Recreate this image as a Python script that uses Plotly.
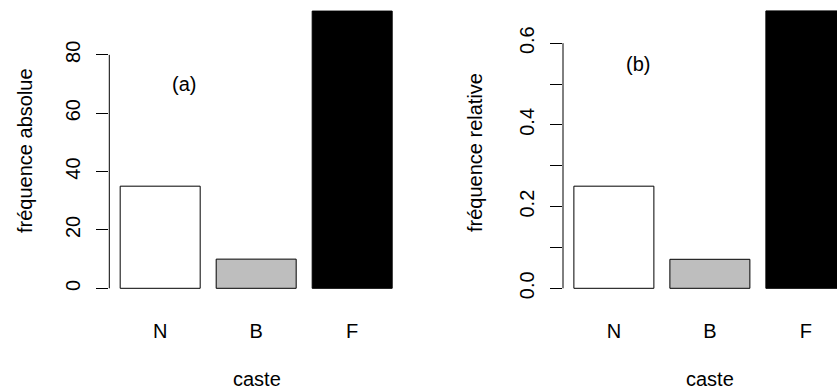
import plotly.graph_objects as go

# ---- data ----
castes = ["N", "B", "F"]
freq_abs = [35, 10, 95]
freq_rel = [0.25, 0.071, 0.679]
bar_colors = ["white", "#BEBEBE", "black"]
abs_ticks = [0, 20, 40, 60, 80]
abs_ticklabels = ["0", "20", "40", "60", "80"]
rel_ticks = [0.0, 0.1, 0.2, 0.3, 0.4, 0.5, 0.6]
rel_ticklabels = ["0.0", "", "0.2", "", "0.4", "", "0.6"]

W, H = 837, 391
FONT = "Liberation Sans, Arial, Helvetica, sans-serif"
FS = 20

fig = go.Figure()
fig.add_trace(go.Bar(x=castes, y=freq_abs, marker=dict(color=bar_colors, line=dict(color="black", width=1)),
                     xaxis="x", yaxis="y", showlegend=False))
fig.add_trace(go.Bar(x=castes, y=freq_rel, marker=dict(color=bar_colors, line=dict(color="black", width=1)),
                     xaxis="x2", yaxis="y2", showlegend=False))

ydom = [1 - 299.4 / H, 1.0]
left_axis_px = 109.3
right_axis_px = 563.0
unit = 96.0  # px per category

common_x = dict(showgrid=False, zeroline=False, showline=False, ticks="",
                tickfont=dict(size=FS, color="black", family=FONT), ticklabelstandoff=18)
common_y = dict(showgrid=False, zeroline=False, showline=False, ticks="outside", ticklen=12,
                tickcolor="black", tickwidth=1, tickangle=-90, ticklabelstandoff=8,
                tickfont=dict(size=FS, color="black", family=FONT))

fig.update_layout(
    width=W, height=H, margin=dict(l=0, r=0, t=0, b=0),
    paper_bgcolor="white", plot_bgcolor="white",
    bargap=1 - 1 / 1.2,
    font=dict(family=FONT, size=FS, color="black"),
    xaxis=dict(domain=[left_axis_px / W, (left_axis_px + 293.8) / W],
               range=[-0.530, -0.530 + 293.8 / unit], anchor="y", **common_x),
    yaxis=dict(domain=ydom, range=[-3.8, 98.8], anchor="x",
               tickvals=abs_ticks, ticktext=abs_ticklabels, **common_y),
    xaxis2=dict(domain=[right_axis_px / W, 1.0],
                range=[-0.530, -0.530 + (W - right_axis_px) / unit], anchor="y2", **common_x),
    yaxis2=dict(domain=ydom, range=[-0.02714, 0.7057], anchor="x2",
                tickvals=rel_ticks, ticktext=rel_ticklabels, **common_y),
)

# partial axis lines (R style: only across tick range)
fig.add_shape(type="line", xref="x domain", yref="y", x0=0, x1=0, y0=abs_ticks[0], y1=abs_ticks[-1],
              line=dict(color="black", width=1))
fig.add_shape(type="line", xref="x2 domain", yref="y2", x0=0, x1=0, y0=rel_ticks[0], y1=rel_ticks[-1],
              line=dict(color="black", width=1))

ann = [
    dict(text="caste", x=256.5 / W, y=0, xref="paper", yref="paper", yanchor="bottom"),
    dict(text="caste", x=710 / W, y=0, xref="paper", yref="paper", yanchor="bottom"),
    dict(text="fréquence absolue", x=25 / W, y=1 - 151 / H, xref="paper", yref="paper", textangle=-90, yanchor="middle"),
    dict(text="fréquence relative", x=475 / W, y=1 - 152 / H, xref="paper", yref="paper", textangle=-90, yanchor="middle"),
    dict(text="(a)", x=0.25, y=70, xref="x", yref="y", yanchor="middle"),
    dict(text="(b)", x=0.25, y=0.55, xref="x2", yref="y2", yanchor="middle"),
]
for a in ann:
    fig.add_annotation(showarrow=False, xanchor="center", borderpad=0,
                       font=dict(size=FS, color="black", family=FONT), **a)

fig.write_html("out.html")
